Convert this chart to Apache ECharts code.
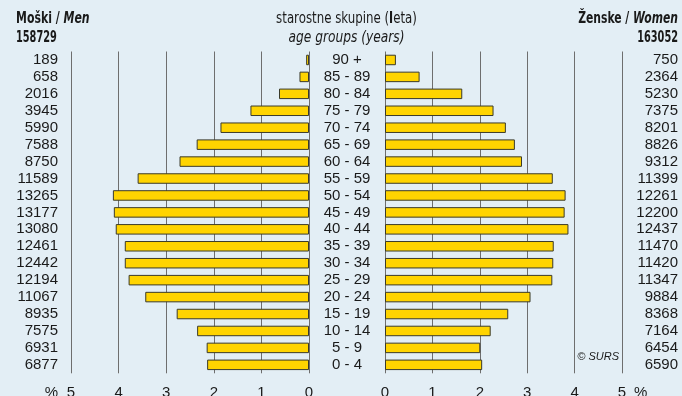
<!DOCTYPE html>
<html><head><meta charset="utf-8">
<script src="https://cdn.jsdelivr.net/npm/echarts@6/dist/echarts.min.js"></script>
<style>html,body{margin:0;padding:0;background:#e3eef5}#c{width:682px;height:396px}</style>
</head><body><div id="c"></div>
<script>
const ageGroups = ['90 +','85 - 89','80 - 84','75 - 79','70 - 74','65 - 69','60 - 64','55 - 59','50 - 54','45 - 49','40 - 44','35 - 39','30 - 34','25 - 29','20 - 24','15 - 19','10 - 14','5 - 9','0 - 4'];
const menCounts = [189,658,2016,3945,5990,7588,8750,11589,13265,13177,13080,12461,12442,12194,11067,8935,7575,6931,6877];
const womenCounts = [750,2364,5230,7375,8201,8826,9312,11399,12261,12200,12437,11470,11420,11347,9884,8368,7164,6454,6590];
const menPct = [0.06,0.20,0.63,1.23,1.86,2.36,2.72,3.60,4.12,4.10,4.06,3.87,3.87,3.79,3.44,2.78,2.35,2.15,2.14];
const womenPct = [0.23,0.73,1.63,2.29,2.55,2.74,2.89,3.54,3.81,3.79,3.87,3.56,3.55,3.53,3.07,2.60,2.23,2.01,2.05];
const menTotal = '158729';
const womenTotal = '163052';
const pctTicks = [0,1,2,3,4,5];

const chart = echarts.init(document.getElementById('c'));
const txt = '#1a1a1a';
const base = 'Liberation Sans, Arial, sans-serif';
const narrow = '"DejaVu Sans Condensed", "Liberation Sans Narrow", sans-serif';
const barStyle = {color:'#ffd400', borderColor:'#3a3a2a', borderWidth:1};
const split = {show:true, lineStyle:{color:'#6e6e6e', width:1}};
const xLabel = {color:txt, fontFamily:base, fontSize:15, margin:12};
const hs = 16;
chart.setOption({
  backgroundColor:'#e3eef5',
  animation:false,
  grid:[
    {left:71, right:373, top:51.5, bottom:22.7, outerBoundsMode:'none', containLabel:false},
    {left:385, right:60, top:51.5, bottom:22.7, outerBoundsMode:'none', containLabel:false}
  ],
  xAxis:[
    {gridIndex:0, type:'value', min:0, max:5, interval:1, inverse:true,
     axisLine:{show:false}, axisTick:{show:false}, splitLine:split, axisLabel:xLabel},
    {gridIndex:1, type:'value', min:0, max:5, interval:1,
     axisLine:{show:false}, axisTick:{show:false}, splitLine:split, axisLabel:xLabel}
  ],
  yAxis:[
    {gridIndex:0, type:'category', data:ageGroups, inverse:true, position:'left',
     axisLine:{show:false}, axisTick:{show:false},
     axisLabel:{interval:0, formatter:(v,i)=>String(menCounts[i]), color:txt, fontFamily:base, fontSize:15, margin:13, align:'right'}},
    {gridIndex:0, type:'category', data:ageGroups, inverse:true, position:'right',
     axisLine:{show:false}, axisTick:{show:false},
     axisLabel:{interval:0, color:txt, fontFamily:base, fontSize:15, margin:38, align:'center'}},
    {gridIndex:1, type:'category', data:ageGroups, inverse:true, position:'right',
     axisLine:{show:false}, axisTick:{show:false},
     axisLabel:{interval:0, formatter:(v,i)=>String(womenCounts[i]), color:txt, fontFamily:base, fontSize:15, margin:56, align:'right'}}
  ],
  series:[
    {type:'bar', xAxisIndex:0, yAxisIndex:0, data:menPct, barWidth:10.5, itemStyle:barStyle, silent:true},
    {type:'bar', xAxisIndex:1, yAxisIndex:2, data:womenPct, barWidth:10.5, itemStyle:barStyle, silent:true}
  ],
  graphic:[
    {type:'text', x:16, y:19, scaleX:0.76, style:{text:'{b|Moški / }{bi|Men}', verticalAlign:'middle', align:'left',
      rich:{b:{fontFamily:narrow, fontWeight:'bold', fontSize:hs, fill:txt}, bi:{fontFamily:narrow, fontWeight:'bold', fontStyle:'italic', fontSize:hs, fill:txt}}}},
    {type:'text', x:16, y:37.5, scaleX:0.68, style:{text:menTotal, verticalAlign:'middle', align:'left', fontFamily:narrow, fontWeight:'bold', fontSize:hs, fill:txt}},
    {type:'text', x:678, y:19, scaleX:0.75, style:{text:'{b|Ženske / }{bi|Women}', verticalAlign:'middle', align:'right',
      rich:{b:{fontFamily:narrow, fontWeight:'bold', fontSize:hs, fill:txt}, bi:{fontFamily:narrow, fontWeight:'bold', fontStyle:'italic', fontSize:hs, fill:txt}}}},
    {type:'text', x:678, y:37.5, scaleX:0.68, style:{text:womenTotal, verticalAlign:'middle', align:'right', fontFamily:narrow, fontWeight:'bold', fontSize:hs, fill:txt}},
    {type:'text', x:346.5, y:19, scaleX:0.82, style:{text:'{r|starostne skupine (}{b|l}{r|eta)}', verticalAlign:'middle', align:'center',
      rich:{r:{fontFamily:narrow, fontSize:hs, fill:txt}, b:{fontFamily:narrow, fontWeight:'bold', fontSize:hs, fill:txt}}}},
    {type:'text', x:346.5, y:37.5, scaleX:0.85, style:{text:'age groups (years)', verticalAlign:'middle', align:'center', fontFamily:narrow, fontStyle:'italic', fontSize:hs, fill:txt}},
    {type:'text', x:58, y:393, style:{text:'%', verticalAlign:'middle', align:'right', fontFamily:base, fontSize:15, fill:txt}},
    {type:'text', x:634, y:393, style:{text:'%', verticalAlign:'middle', align:'left', fontFamily:base, fontSize:15, fill:txt}},
    {type:'text', x:619, y:357, style:{text:'© SURS', verticalAlign:'middle', align:'right', fontFamily:base, fontStyle:'italic', fontSize:11, fill:txt}}
  ]
});
</script></body></html>
